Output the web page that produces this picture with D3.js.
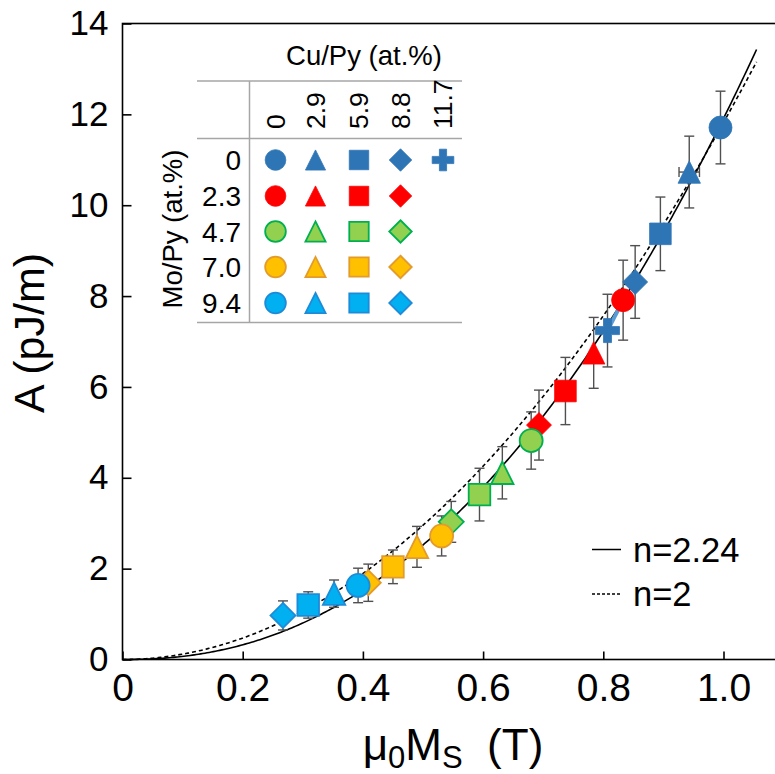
<!DOCTYPE html>
<html><head><meta charset="utf-8">
<script src="https://cdn.jsdelivr.net/npm/d3@7"></script>
<style>
body{margin:0;background:#fff}
svg{display:block}
text{font-family:"Liberation Sans",Arial,sans-serif;fill:#000}
</style>
</head><body><svg id="c" width="775" height="774"></svg>
<script>
// ---------- data ----------
const moLevels = ["0","2.3","4.7","7.0","9.4"];          // rows (Mo/Py at.%)
const cuLevels = ["0","2.9","5.9","8.8","11.7"];         // columns (Cu/Py at.%)
const shapes = ["circle","triangle","square","diamond","plus"]; // by Cu level
const fillColors = ["#2E75B6","#FF0000","#92D050","#FFC000","#00B0F0"];   // by Mo level
const strokeColors = ["#2E75B6","#FF0000","#00B050","#E39B2B","#1E8BD8"];

const pointMo = [0,0,0,0,0, 1,1,1,1, 2,2,2,2, 3,3,3,3, 4,4,4,4];
const pointCu = [0,1,2,3,4, 0,1,2,3, 0,1,2,3, 0,1,2,3, 0,1,2,3];
const msValues = [0.995,0.943,0.895,0.853,0.807, 0.833,0.784,0.737,0.693, 0.680,0.632,0.594,0.547, 0.531,0.490,0.450,0.409, 0.392,0.352,0.309,0.267];
const aValues  = [11.71,10.73,9.37,8.31,7.24, 7.91,6.75,5.91,5.16, 4.82,4.11,3.63,3.03, 2.72,2.48,2.04,1.69, 1.63,1.45,1.20,0.97];
const aErrors  = [0.80,0.79,0.81,0.80,0.80, 0.88,0.78,0.74,0.77, 0.63,0.575,0.58,0.45, 0.44,0.45,0.37,0.41, 0.38,0.30,0.29,0.32];
const msErrors = [0,0.017,0,0,0, 0,0,0,0, 0,0,0,0, 0,0,0,0, 0,0,0,0];
const linkFrom = 4, linkTo = 5; // light-blue connector seen between the "+" and red circle

// power-law fits A = c * Ms^n
const fitLabels = ["n=2.24","n=2"];
const fitN = [2.24, 2];
const fitC = [11.91, 11.82];
const fitDash = [null, "4,3"];
const fitMsMax = 1.055;

const yTicks = [0,2,4,6,8,10,12,14];
const xTicks = [0,0.2,0.4,0.6,0.8,1.0];
const xTickLabels = ["0","0.2","0.4","0.6","0.8","1.0"];

// ---------- layout ----------
const svg = d3.select("#c");
const x = d3.scaleLinear().domain([0,1]).range([122.5,723.5]);
const y = d3.scaleLinear().domain([0,14]).range([659.5,23.5]);

// frame (right side runs past the window)
svg.append("rect").attr("x",122.5).attr("y",23.5).attr("width",700).attr("height",636)
  .attr("fill","none").attr("stroke","#000").attr("stroke-width",1.6);

const yAxis = svg.append("g").attr("transform","translate(122.5,0)")
  .call(d3.axisLeft(y).tickValues(yTicks).tickSize(-9).tickPadding(14).tickFormat(d3.format("d")));
const xAxis = svg.append("g").attr("transform","translate(0,659.5)")
  .call(d3.axisBottom(x).tickValues(xTicks).tickSize(-8).tickPadding(14).tickFormat((d,i)=>xTickLabels[i]));
[yAxis,xAxis].forEach(g=>{
  g.select(".domain").remove();
  g.selectAll(".tick line").attr("stroke","#000").attr("stroke-width",1.6);
  g.selectAll(".tick text").attr("font-family","Liberation Sans, Arial, sans-serif").attr("fill","#000");
});
yAxis.selectAll(".tick text").attr("font-size",35);
xAxis.selectAll(".tick text").attr("font-size",39);

// axis titles
svg.append("text").attr("transform","translate(44,333) rotate(-90)").attr("text-anchor","middle")
  .attr("font-size",43).text("A (pJ/m)");
const xt = svg.append("text").attr("x",453).attr("y",760).attr("text-anchor","middle").attr("font-size",44);
xt.append("tspan").text("μ");
xt.append("tspan").attr("font-size",31).attr("dy",8).text("0");
xt.append("tspan").attr("dy",-8).text("M");
xt.append("tspan").attr("font-size",31).attr("dy",8).text("S");
xt.append("tspan").attr("dy",-8).text("\u00a0 (T)");

// ---------- shapes ----------
function shapePath(shape, k){
  if(shape==="circle"){const r=11.5*k;return `M${r},0A${r},${r} 0 1 1 ${-r},0A${r},${r} 0 1 1 ${r},0Z`;}
  if(shape==="square"){const h=10.8*k;return `M${-h},${-h}H${h}V${h}H${-h}Z`;}
  if(shape==="triangle"){const w=11.2*k,h=11.2*k;return `M0,${-h}L${w},${h}L${-w},${h}Z`;}
  if(shape==="diamond"){const d=12.5*k;return `M0,${-d}L${d},0L0,${d}L${-d},0Z`;}
  if(shape==="plus"){const L=12*k,t=4*k;return `M${-t},${-L}H${t}V${-t}H${L}V${t}H${t}V${L}H${-t}V${t}H${-L}V${-t}H${-t}Z`;}
}

// ---------- fit curves ----------
const line = d3.line().x(d=>x(d[0])).y(d=>y(d[1]));
fitN.forEach((n,i)=>{
  const pts = d3.range(0,301).map(j=>{const m=fitMsMax*j/300;return [m, fitC[i]*Math.pow(m,n)];});
  svg.append("path").attr("d",line(pts)).attr("fill","none").attr("stroke","#000")
    .attr("stroke-width",1.6).attr("stroke-dasharray",fitDash[i]);
});

// ---------- points ----------
const idx = d3.range(msValues.length);
// error bars
const eb = svg.append("g").attr("stroke","#505050").attr("stroke-width",1.4);
idx.forEach(i=>{
  const cx=x(msValues[i]), y1=y(aValues[i]+aErrors[i]), y2=y(aValues[i]-aErrors[i]);
  eb.append("line").attr("x1",cx).attr("x2",cx).attr("y1",y1).attr("y2",y2);
  eb.append("line").attr("x1",cx-5).attr("x2",cx+5).attr("y1",y1).attr("y2",y1);
  eb.append("line").attr("x1",cx-5).attr("x2",cx+5).attr("y1",y2).attr("y2",y2);
  if(msErrors[i]>0){
    const cy=y(aValues[i]), x1=x(msValues[i]-msErrors[i]), x2=x(msValues[i]+msErrors[i]);
    eb.append("line").attr("x1",x1).attr("x2",x2).attr("y1",cy).attr("y2",cy);
    eb.append("line").attr("x1",x1).attr("x2",x1).attr("y1",cy-5).attr("y2",cy+5);
    eb.append("line").attr("x1",x2).attr("x2",x2).attr("y1",cy-5).attr("y2",cy+5);
  }
});
// connector
svg.append("line").attr("x1",x(msValues[linkFrom])).attr("y1",y(aValues[linkFrom]))
  .attr("x2",x(msValues[linkTo])).attr("y2",y(aValues[linkTo]))
  .attr("stroke","#5B9BD5").attr("stroke-width",4);
// markers
svg.append("g").selectAll("path").data(idx).join("path")
  .attr("transform",i=>`translate(${x(msValues[i])},${y(aValues[i])})`)
  .attr("d",i=>shapePath(shapes[pointCu[i]],1))
  .attr("fill",i=>fillColors[pointMo[i]])
  .attr("stroke",i=>strokeColors[pointMo[i]])
  .attr("stroke-width",i=>pointMo[i]>=2?1.8:0.8);

// ---------- legend table ----------
const lg = svg.append("g");
const colX = [275.5,315.5,359,400.5,443];
const rowY = [160,196,231.5,267,303];
lg.append("text").attr("x",364).attr("y",65).attr("text-anchor","middle").attr("font-size",27.5).text("Cu/Py (at.%)");
lg.append("text").attr("transform","translate(182,229) rotate(-90)").attr("text-anchor","middle").attr("font-size",27.5).text("Mo/Py (at.%)");
const gl = lg.append("g").attr("stroke","#A6A6A6").attr("stroke-width",1.5);
[81,138.5,322.5].forEach(yy=>gl.append("line").attr("x1",197).attr("x2",462).attr("y1",yy).attr("y2",yy));
gl.append("line").attr("x1",249.5).attr("x2",249.5).attr("y1",81).attr("y2",322.5);
cuLevels.forEach((c,j)=>{
  lg.append("text").attr("transform",`translate(${colX[j]+9},129) rotate(-90)`).attr("font-size",26.5).text(c);
});
moLevels.forEach((m,i)=>{
  lg.append("text").attr("x",241).attr("y",rowY[i]+10).attr("text-anchor","end").attr("font-size",28).text(m);
  cuLevels.forEach((c,j)=>{
    if(j===4 && i>0) return;
    lg.append("path").attr("transform",`translate(${colX[j]},${rowY[i]})`)
      .attr("d",shapePath(shapes[j],0.9))
      .attr("fill",fillColors[i]).attr("stroke",strokeColors[i]).attr("stroke-width",i>=2?1.8:0.8);
  });
});

// ---------- fit legend ----------
const fl = svg.append("g");
fitLabels.forEach((lab,i)=>{
  const yy = 549.5 + i*44.5;
  fl.append("line").attr("x1",592).attr("x2",621).attr("y1",yy).attr("y2",yy)
    .attr("stroke","#000").attr("stroke-width",1.5).attr("stroke-dasharray",fitDash[i]? "3,2":null);
  fl.append("text").attr("x",633).attr("y",yy+12).attr("font-size",34.5).text(lab);
});
</script>
</body></html>
